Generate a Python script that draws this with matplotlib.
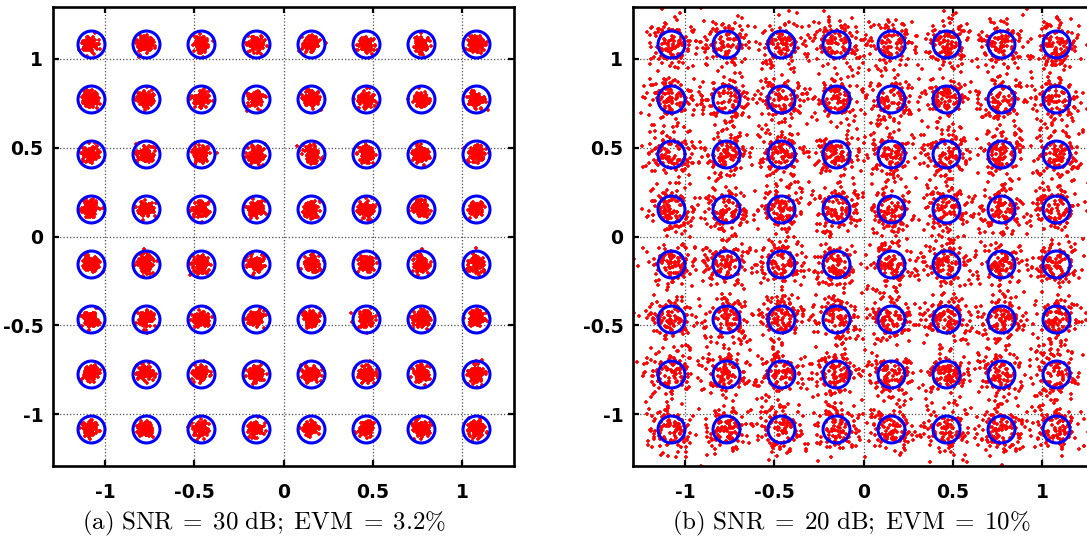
import numpy as np
import matplotlib
matplotlib.use("Agg")
import matplotlib.pyplot as plt

# ---- data ----
levels = [-1.080, -0.771, -0.463, -0.154, 0.154, 0.463, 0.771, 1.080]   # 64-QAM I/Q levels
tick_vals = [-1, -0.5, 0, 0.5, 1]
tick_labels = ['-1', '-0.5', '0', '0.5', '1']
captions = [r'$\mathrm{(a)\ SNR}\;=\;\mathrm{30\ dB{;}}\;\mathrm{EVM}\;=\;\mathrm{3.2\%}$',
            r'$\mathrm{(b)\ SNR}\;=\;\mathrm{20\ dB{;}}\;\mathrm{EVM}\;=\;\mathrm{10\%}$']
evm_pct = [3.2, 10.0]          # EVM of received symbols in each panel
n_per_symbol = 110             # received samples per constellation point
seeds = [7, 11]

plt.rcParams['mathtext.fontset'] = 'cm'

W, H = 1087, 542
fig = plt.figure(figsize=(W / 100, H / 100), dpi=100)

ax_px = [(53, 76, 461, 459), (633, 76, 461, 459)]   # left, bottom, width, height (px)
cap_x = [264, 851]

I, Q = np.meshgrid(levels, levels)
I = I.ravel(); Q = Q.ravel()

for k in range(2):
    l, b, w, h = ax_px[k]
    ax = fig.add_axes([l / W, b / H, w / W, h / H])
    rng = np.random.default_rng(seeds[k])
    sigma = evm_pct[k] / 100 / np.sqrt(2)
    rx = np.repeat(I, n_per_symbol) + rng.normal(0, sigma, I.size * n_per_symbol)
    ry = np.repeat(Q, n_per_symbol) + rng.normal(0, sigma, Q.size * n_per_symbol)
    ax.plot(rx, ry, '+', color='red', ms=3.3, mew=1.2, zorder=2)
    ax.plot(I, Q, 'o', mfc='none', mec='blue', ms=19.4, mew=2.2, zorder=3)

    ax.set_xlim(-1.29, 1.29)
    ax.set_ylim(-1.29, 1.29)
    ax.set_xticks(tick_vals)
    ax.set_yticks(tick_vals)
    ax.set_xticklabels(tick_labels)
    ax.set_yticklabels(tick_labels)
    ax.grid(True, linestyle=':', color='0.3', linewidth=0.9)
    ax.set_axisbelow(True)
    for s in ax.spines.values():
        s.set_linewidth(1.9)
    ax.tick_params(direction='in', length=4, width=1.6, top=True, right=True,
                   labelsize=13.5)
    ax.tick_params(axis='x', pad=12)
    ax.tick_params(axis='y', pad=7)
    for t in ax.get_xticklabels() + ax.get_yticklabels():
        t.set_fontweight('bold')
        t.set_family('DejaVu Sans')
    fig.text(cap_x[k] / W, 1 - 523 / H, captions[k], ha='center', va='center',
             fontsize=18)

fig.savefig('out.png', dpi=100)
